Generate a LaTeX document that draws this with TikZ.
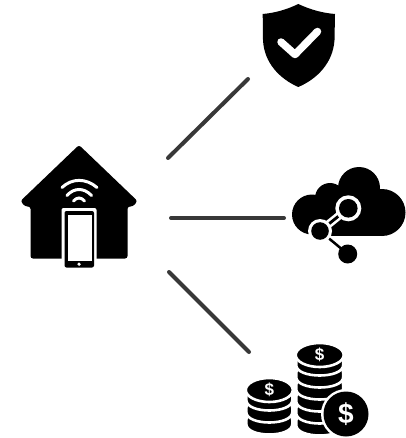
\documentclass[tikz,border=0pt]{standalone}
\usepackage{fontspec}
\setmainfont{Liberation Sans}
\tikzset{
  px/.style={x=1pt,y=-1pt},
  link/.style={draw=black!78,line width=4pt,line cap=round},
  wifi/.style={draw=white,line width=3pt,line cap=round},
  dollar/.style={text=white,font=\bfseries,inner sep=0pt},
  coinlayer/.style={fill=black,draw=white,line width=2.6pt},
}
\newcommand{\coinslice}[3]{% cx, top-centre y, rx
  \path[coinlayer] ({#1-#3},{#2}) -- ({#1-#3},{#2+4})
     .. controls ({#1-#3},{#2+18}) and ({#1+#3},{#2+18}) .. ({#1+#3},{#2+4})
     -- ({#1+#3},{#2})
     .. controls ({#1+#3},{#2-14}) and ({#1-#3},{#2-14}) .. cycle;
}
\begin{document}
\begin{tikzpicture}[px]
\useasboundingbox (0,0) rectangle (405,438);
% house
\fill[black,rounded corners=2.5pt] (79,145) -- (137.5,201) -- (133,206.5) -- (127.5,206.5) -- (127.5,258.5) -- (30.5,258.5) -- (30.5,206.5) -- (25,206.5) -- (20.5,201) -- cycle;
\draw[wifi] (62,187.5) .. controls (72,178) and (86,178) .. (97,187.5);
\draw[wifi] (67,195.5) .. controls (74,187.5) and (84,187.5) .. (91.5,195.5);
\draw[wifi] (73.5,201) .. controls (77,197) and (81,197) .. (84.5,201);
\fill[white,rounded corners=2pt] (61.5,208) rectangle (96.5,269);
\fill[black,rounded corners=2pt] (64.5,211) rectangle (94,267.5);
\fill[white] (67.5,215) rectangle (91.5,261);
\fill[white] (79,264.2) circle (1.8);
\coordinate (homeA) at (168,158);
\coordinate (homeB) at (171,218);
\coordinate (homeC) at (169,272);
% shield
\fill[black] (298.3,4) .. controls (286,10) and (274,13) .. (262.7,14)
  -- (263,40) .. controls (264,63) and (280,79) .. (298.3,87)
  .. controls (317,79) and (333,63) .. (334.5,40) -- (335,14)
  .. controls (323,13) and (311,10) .. (298.3,4) -- cycle;
\draw[white,line width=7.5pt,line cap=round,line join=round] (281,42) -- (295,54.5) -- (317.5,31.5);
\coordinate (shieldEnd) at (248,79);
% cloud
\fill[black] (312,214.5) circle (20);
\fill[black] (330,198) circle (15);
\fill[black] (359,188) circle (21);
\fill[black] (382,212.5) circle (23.5);
\fill[black] (312,200) rectangle (382,236);
\draw[black,line width=2.5pt] (320,231) -- (347.7,254);
\draw[white,line width=8pt] (320,231) -- (348.3,208.3);
\draw[black,line width=2.8pt] (320,231) -- (348.3,208.3);
\fill[white] (320,231) circle (12);
\fill[black] (320,231) circle (8.8);
\fill[white] (348.3,208.3) circle (13);
\fill[black] (348.3,208.3) circle (9.3);
\fill[black] (347.7,254) circle (9.5);
\coordinate (cloudEnd) at (284,218);
% coins, right stack
\foreach \y in {421,409,397,385,373,361}{\coinslice{319.7}{\y}{23.5}}
\path[coinlayer] (319.7,355) ellipse[x radius=24,y radius=12];
\node[dollar,font=\fontsize{17}{17}\selectfont\bfseries] (coinTopR) at (319.7,355) {\$};
% coins, left stack
\foreach \y in {420,408,396}{\coinslice{269.3}{\y}{23}}
\path[coinlayer] (269.3,390) ellipse[x radius=23.5,y radius=12];
\node[dollar,font=\fontsize{17}{17}\selectfont\bfseries] (coinTopL) at (269.3,390) {\$};
% big coin
\fill[white] (346,414) circle (25);
\fill[black] (346,414) circle (22.5);
\node[dollar,font=\fontsize{28}{28}\selectfont\bfseries] (coinBig) at (346,414) {\$};
\coordinate (coinEnd) at (249,352);
% connectors
\draw[link] (homeA) -- (shieldEnd);
\draw[link] (homeB) -- (cloudEnd);
\draw[link] (homeC) -- (coinEnd);
\end{tikzpicture}
\end{document}
